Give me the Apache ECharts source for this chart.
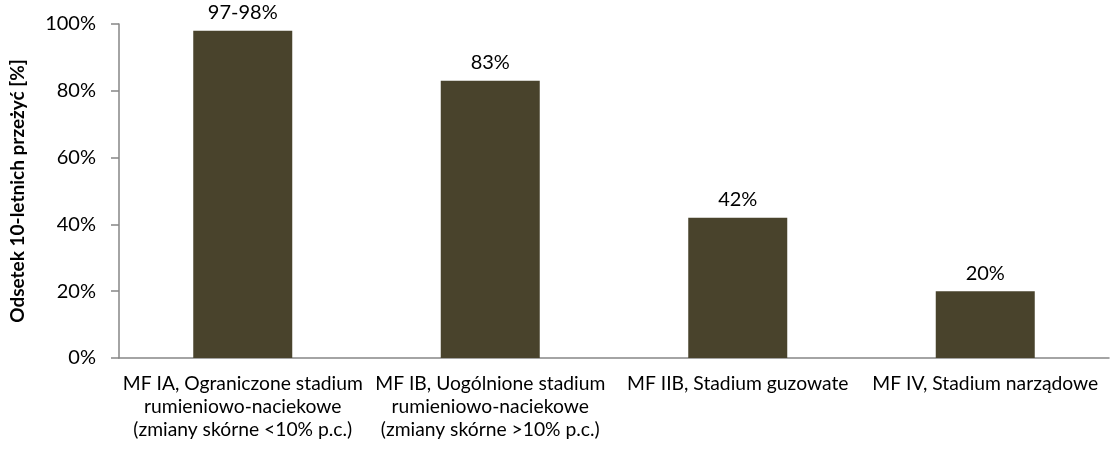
<!DOCTYPE html>
<html><head><meta charset="utf-8">
<script src="https://cdn.jsdelivr.net/npm/echarts@6/dist/echarts.min.js"></script>
<style>html,body{margin:0;padding:0;background:#fff}#c{width:1110px;height:453px}</style>
</head><body><div id="c"></div>
<script>
const categories = [
  "MF IA, Ograniczone stadium\nrumieniowo-naciekowe\n(zmiany skórne <10% p.c.)",
  "MF IB, Uogólnione stadium\nrumieniowo-naciekowe\n(zmiany skórne >10% p.c.)",
  "MF IIB, Stadium guzowate",
  "MF IV, Stadium narządowe"
];
const values = [98, 83, 42, 20];
const valueLabels = ["97-98%", "83%", "42%", "20%"];
const yTicks = [0, 20, 40, 60, 80, 100];
const yAxisTitle = "Odsetek 10-letnich przeżyć [%]";

const font = "Lato, 'Open Sans', sans-serif";
const chart = echarts.init(document.getElementById('c'));
chart.setOption({
  animation: false,
  grid: {left: 118, right: 1, top: 24, bottom: 95},
  xAxis: {
    type: 'category', data: categories,
    axisLine: {lineStyle: {color: '#868686', width: 1.5}},
    axisTick: {show: false},
    axisLabel: {color: '#000', fontFamily: font, fontSize: 19.3, lineHeight: 23, margin: 14, interval: 0}
  },
  yAxis: {
    type: 'value', min: yTicks[0], max: yTicks[yTicks.length-1], interval: 20,
    name: yAxisTitle, nameLocation: 'middle', nameGap: 92,
    nameTextStyle: {fontFamily: font, fontSize: 19, fontWeight: 'bold', color: '#000'},
    axisLine: {show: true, lineStyle: {color: '#868686', width: 1.5}},
    axisTick: {show: true, length: 8, lineStyle: {color: '#868686', width: 1.5}},
    splitLine: {show: false},
    axisLabel: {color: '#000', fontFamily: font, fontSize: 20, margin: 23, formatter: v => v + '%'}
  },
  series: [{
    type: 'bar', data: values, barWidth: '40%',
    itemStyle: {color: '#49432C'},
    label: {show: true, position: 'top', distance: 8, color: '#000', fontFamily: font, fontSize: 20,
      formatter: p => valueLabels[p.dataIndex]}
  }]
});
</script></body></html>
